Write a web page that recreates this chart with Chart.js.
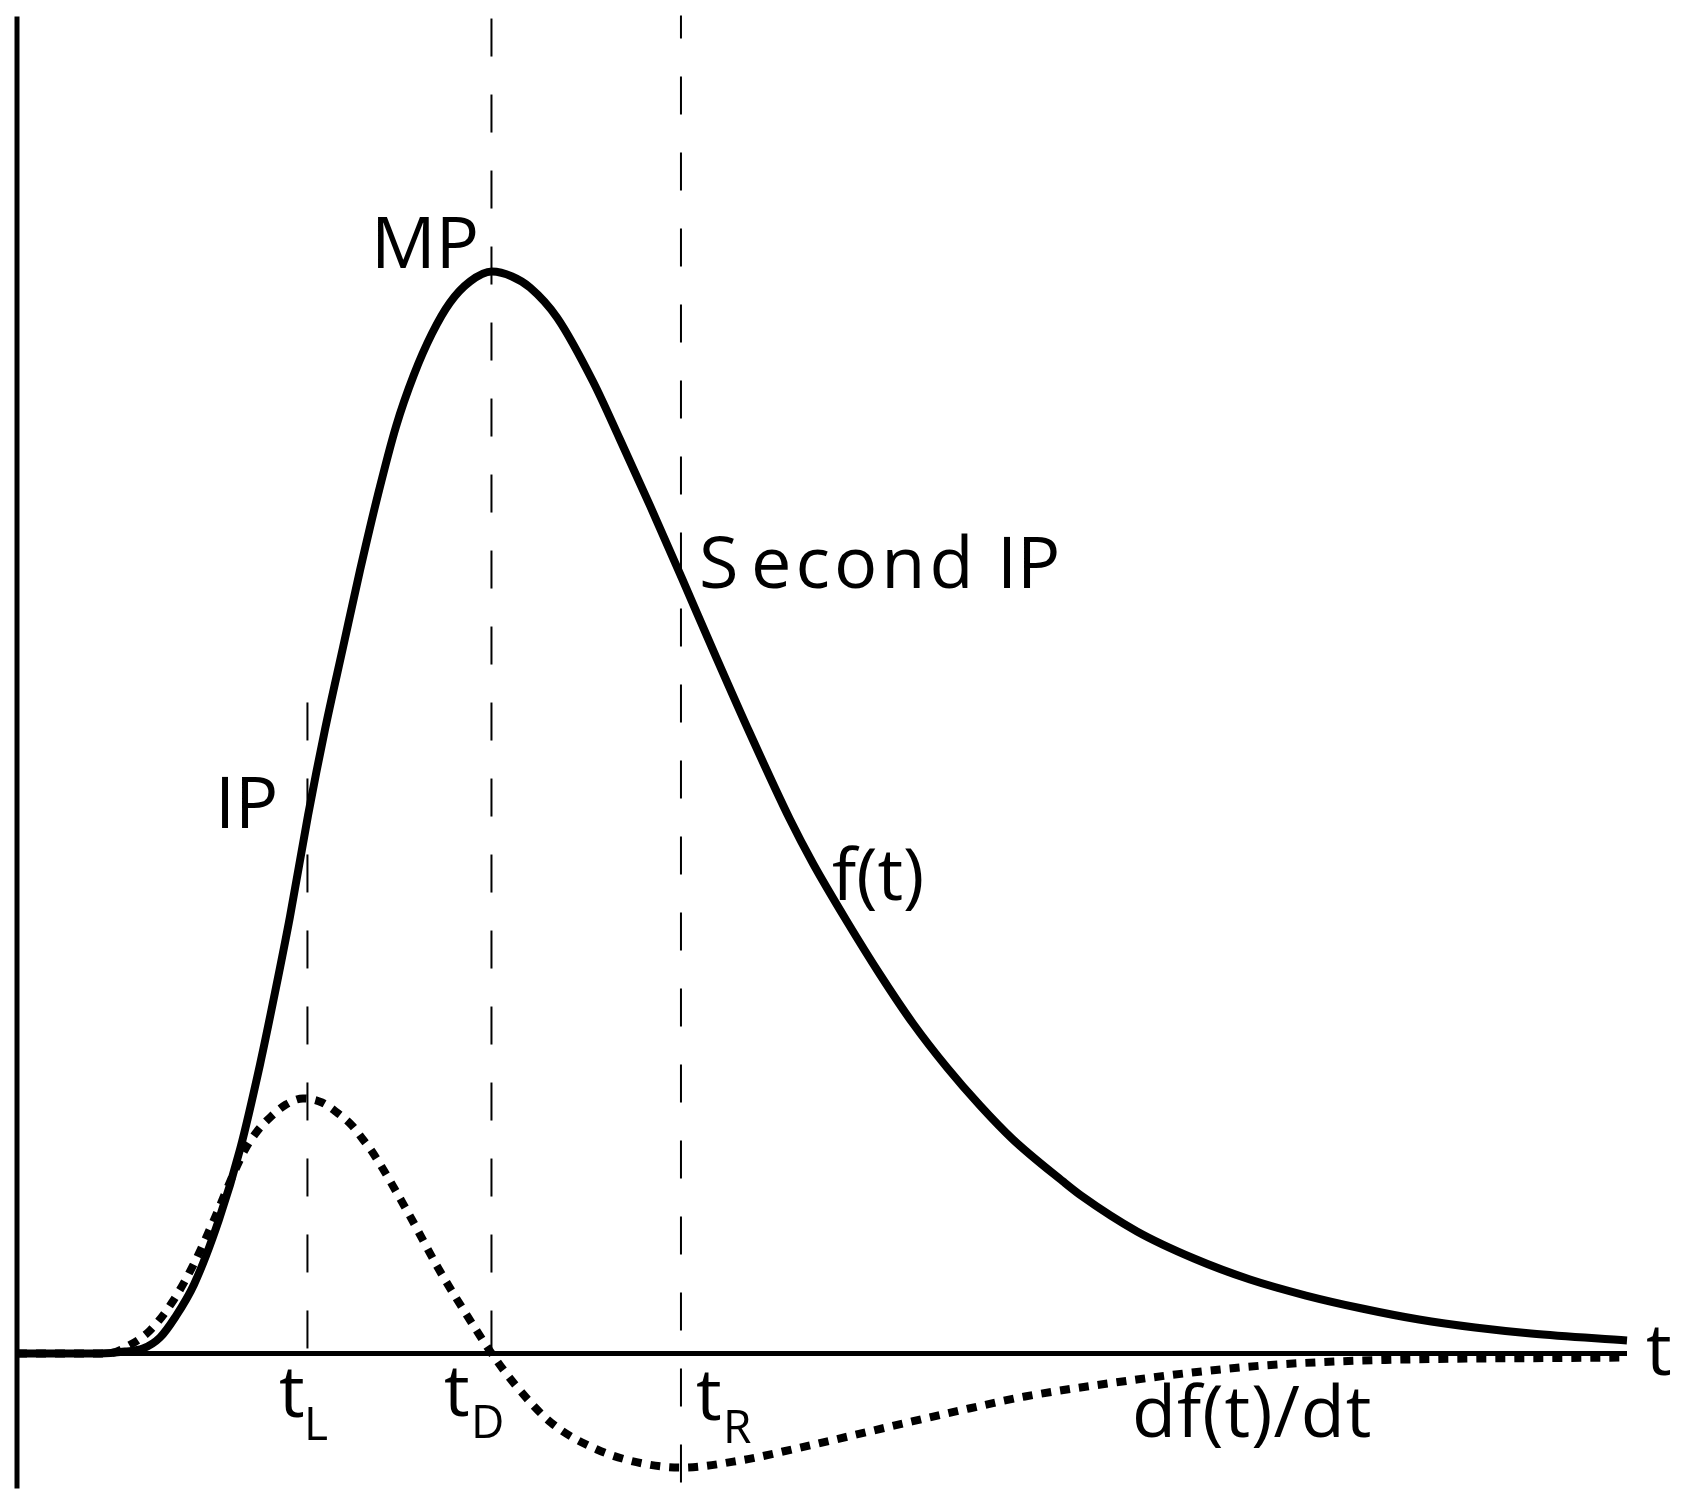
<!DOCTYPE html>
<html lang="en">
<head>
  <meta charset="UTF-8">
  <title>f(t) and df(t)/dt</title>
  <script src="https://cdn.jsdelivr.net/npm/chart.js"></script>
  <style>
    body { margin: 0; background: #fff; }
    canvas { display: block; }
  </style>
</head>
<body>
  <canvas id="curveChart" width="1682" height="1505"></canvas>
  <script>
    // f(t) (t in 0..100, f scaled so the peak is 1)
    const fT = [0, 2.671, 5.155, 6.708, 7.826, 8.882, 9.814, 10.994, 12.547, 13.851, 15.093, 16.025, 16.957, 18.075, 19.130, 20.248, 21.304, 22.422, 23.540, 24.658, 25.776, 26.894, 28.137, 29.503, 30.745, 31.863, 33.540, 35.776, 37.453, 39.317, 41.304, 43.354, 45.528, 48.012, 49.441, 51.553, 53.602, 55.652, 57.764, 59.814, 61.863, 64.969, 66.087, 69.565, 73.106, 76.584, 80.062, 83.540, 87.081, 90.559, 94.037, 100];
    const fV = [0, 0, 0, 0.0018, 0.0046, 0.0148, 0.0333, 0.0638, 0.1238, 0.1885, 0.2671, 0.3336, 0.4039, 0.4972, 0.5767, 0.6525, 0.7237, 0.7939, 0.8567, 0.9048, 0.9427, 0.9713, 0.9908, 1.0, 0.9954, 0.9852, 0.9575, 0.8983, 0.8447, 0.7837, 0.7163, 0.6460, 0.5730, 0.4935, 0.4529, 0.3993, 0.3503, 0.3050, 0.2643, 0.2292, 0.1978, 0.1590, 0.1460, 0.1128, 0.0878, 0.0684, 0.0536, 0.0416, 0.0314, 0.0240, 0.0185, 0.0120];

    // df(t)/dt, same scale
    const dT = [0, 2.671, 5.590, 6.957, 8.261, 9.627, 10.932, 12.298, 13.292, 14.161, 14.907, 15.776, 16.708, 17.764, 18.944, 19.876, 20.807, 21.491, 22.050, 24.286, 26.211, 28.075, 29.441, 30.932, 33.168, 36.025, 38.882, 41.242, 44.907, 48.385, 55.590, 59.130, 62.609, 69.565, 72.981, 77.391, 81.863, 86.335, 90.745, 95.217, 100];
    const dV = [0, 0, 0, 0.0074, 0.0213, 0.0471, 0.0813, 0.1257, 0.1608, 0.1885, 0.2052, 0.2190, 0.2301, 0.2357, 0.2320, 0.2227, 0.2107, 0.1978, 0.1867, 0.1303, 0.0776, 0.0323, 0.001, -0.0287, -0.0638, -0.0887, -0.1017, -0.1054, -0.0989, -0.0878, -0.0628, -0.0508, -0.0397, -0.0240, -0.0176, -0.0111, -0.0074, -0.0055, -0.0046, -0.0042, -0.0037];

    // marked times
    const tL = 18.04, tD = 29.47, tR = 41.24;

    const toPoints = (xs, ys) => xs.map((x, i) => ({ x: x, y: ys[i] }));

    const labels = {
      id: 'labels',
      afterDraw(chart) {
        const ctx = chart.ctx;
        const big = '72px "Open Sans"', small = '46px "Open Sans"';
        ctx.save();
        ctx.fillStyle = '#000';
        ctx.textBaseline = 'alphabetic';
        ctx.font = big;
        ctx.fillText('MP', 371, 268);
        ctx.fillText('IP', 215, 828);
        ctx.fillText('S', 699, 588);
        ctx.letterSpacing = '4px';
        ctx.fillText('econd', 751, 588);
        ctx.letterSpacing = '0px';
        ctx.fillText('IP', 997, 588);
        ctx.fillText('f(t)', 832, 900);
        ctx.letterSpacing = '1px';
        ctx.fillText('df(t)/dt', 1132, 1437);
        ctx.letterSpacing = '0px';
        ctx.fillText('t', 1646, 1375);
        // t_L, t_D, t_R under the axis
        [['L', 279, 1417, 304, 1440], ['D', 444, 1416, 471, 1438], ['R', 696, 1420, 723, 1443]].forEach(([sub, xt, yt, xs, ys]) => {
          ctx.font = big;
          ctx.fillText('t', xt, yt);
          ctx.font = small;
          ctx.fillText(sub, xs, ys);
        });
        ctx.restore();
      }
    };

    const ctx = document.getElementById('curveChart').getContext('2d');
    new Chart(ctx, {
      type: 'scatter',
      data: {
        datasets: [
          { data: [{ x: 0, y: 1.2357 }, { x: 0, y: -0.1248 }], borderWidth: 5 },
          { data: [{ x: 0, y: 0 }, { x: 100, y: 0 }], borderWidth: 5 },
          { data: [{ x: tL, y: 0.6017 }, { x: tL, y: 0 }], borderWidth: 2, borderDash: [38, 38] },
          { data: [{ x: tD, y: 1.2338 }, { x: tD, y: 0 }], borderWidth: 2, borderDash: [38, 38] },
          { data: [{ x: tR, y: 1.2366 }, { x: tR, y: -0.1257 }], borderWidth: 2, borderDash: [38, 38], borderDashOffset: 15 },
          { data: toPoints(fT, fV), borderWidth: 8, cubicInterpolationMode: 'monotone' },
          { data: toPoints(dT, dV), borderWidth: 8, borderDash: [10, 9], cubicInterpolationMode: 'monotone' }
        ].map(d => Object.assign({
          showLine: true,
          borderColor: '#000',
          pointRadius: 0,
          borderCapStyle: 'butt',
          clip: false
        }, d))
      },
      options: {
        responsive: false,
        animation: false,
        layout: { padding: { left: 17, right: 55, top: 1, bottom: 0 } },
        plugins: { legend: { display: false }, tooltip: { enabled: false } },
        scales: {
          x: { type: 'linear', min: 0, max: 100, display: false },
          y: { min: -0.14, max: 1.25, display: false }
        }
      },
      plugins: [labels]
    });
  </script>
</body>
</html>
